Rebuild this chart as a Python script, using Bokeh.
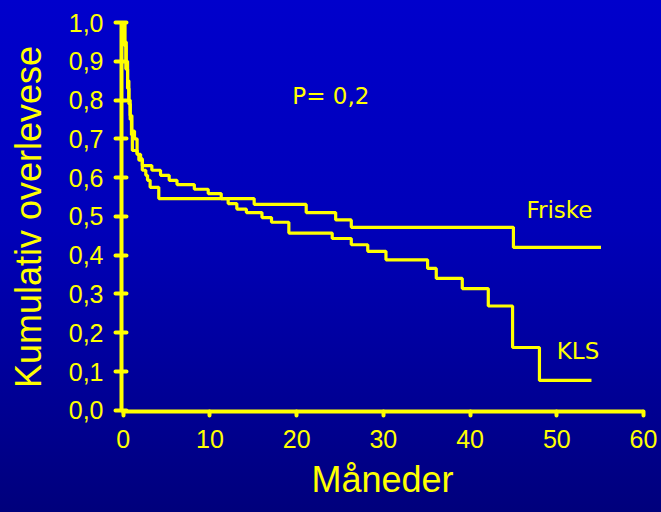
from bokeh.plotting import figure
from bokeh.models import Range1d, FixedTicker, CustomJSTickFormatter, Label, Title
from bokeh.embed import file_html
from bokeh.resources import INLINE

# Kaplan-Meier curves (months, cumulative survival)
months_kls = [0, 0.2, 0.35, 0.5, 0.65, 0.8, 1.0, 1.3, 1.6, 1.8,
              2.2, 3.3, 4.3, 5.3, 6.2, 8.2, 9.8, 11.3, 12.1, 13.1,
              14.2, 16.0, 17.1, 19.1, 24.1, 26.3, 28.2, 30.3, 35.1, 36.1,
              39.1, 42.1, 44.9, 48.0, 54.0]
surv_kls = [1.0, 0.95, 0.90, 0.85, 0.80, 0.76, 0.72, 0.70, 0.66, 0.645,
            0.631, 0.619, 0.606, 0.593, 0.582, 0.570, 0.559, 0.546, 0.533, 0.519,
            0.510, 0.497, 0.485, 0.457, 0.443, 0.427, 0.410, 0.388, 0.366, 0.340,
            0.314, 0.269, 0.162, 0.077, 0.077]

months_friske = [0, 0.15, 0.3, 0.5, 0.65, 0.8, 0.95, 1.05, 1.6, 2.0,
                 2.2, 2.6, 2.8, 3.1, 4.1, 15.1, 21.1, 24.5, 26.3, 45.0, 55.1]
surv_friske = [1.0, 0.94, 0.88, 0.83, 0.79, 0.75, 0.71, 0.67, 0.66, 0.649,
               0.619, 0.606, 0.593, 0.575, 0.546, 0.531, 0.510, 0.491, 0.472, 0.420, 0.420]

x_ticks = [0, 10, 20, 30, 40, 50, 60]
y_ticks = [0.0, 0.1, 0.2, 0.3, 0.4, 0.5, 0.6, 0.7, 0.8, 0.9, 1.0]

YELLOW = "#FFFF00"

p = figure(width=661, height=512, output_backend="svg", toolbar_location=None,
           x_range=Range1d(-0.2, 60), y_range=Range1d(-0.003, 1.0),
           min_border_left=121, min_border_right=18, min_border_top=22, min_border_bottom=101)
p.background_fill_alpha = 0
p.border_fill_alpha = 0
p.outline_line_color = None
p.styles = {"background": "linear-gradient(to bottom, #0000CC 0%, #0000B8 45%, #00007C 100%)"}
p.grid.visible = False

p.step(months_friske, surv_friske, mode="after", line_color=YELLOW, line_width=3.2)
p.step(months_kls, surv_kls, mode="after", line_color=YELLOW, line_width=3.2)

for ax in (p.xaxis[0], p.yaxis[0]):
    ax.axis_line_color = YELLOW
    ax.axis_line_width = 4
    ax.major_tick_line_color = YELLOW
    ax.major_tick_line_width = 4
    ax.major_tick_line_cap = "round"
    ax.minor_tick_line_color = None
    ax.major_label_text_color = YELLOW
    ax.major_label_text_font = "Liberation Sans"
    ax.major_label_text_font_size = "25px"
    ax.axis_label_text_color = YELLOW
    ax.axis_label_text_font = "Liberation Sans"
    ax.axis_label_text_font_size = "36px"
    ax.axis_label_text_font_style = "normal"

p.xaxis.ticker = FixedTicker(ticks=x_ticks)
p.yaxis.ticker = FixedTicker(ticks=y_ticks)
p.yaxis.formatter = CustomJSTickFormatter(code="return tick.toFixed(1).replace('.', ',');")
p.xaxis.major_tick_in = 0
p.xaxis.major_tick_out = 4
p.yaxis.major_tick_in = 5
p.yaxis.major_tick_out = 6
p.yaxis.major_label_standoff = 12
p.xaxis.major_label_standoff = 14
p.yaxis.axis_label = "Kumulativ overlevese"
p.yaxis.axis_label_standoff = 17

# x-axis title in the bottom border
p.add_layout(Title(text="Måneder", align="center", text_color=YELLOW, text_font="Liberation Sans",
                   text_font_size="36px", text_font_style="normal", standoff=12), "below")

for txt, xx, yy in [("P= 0,2", 19.5, 0.81), ("Friske", 46.5, 0.516), ("KLS", 50.0, 0.152)]:
    p.add_layout(Label(x=xx, y=yy, text=txt, text_color=YELLOW, text_font="DejaVu Sans",
                       text_font_size="23px", text_baseline="alphabetic", text_align="left"))

open("out.html", "w").write(file_html(p, INLINE))
